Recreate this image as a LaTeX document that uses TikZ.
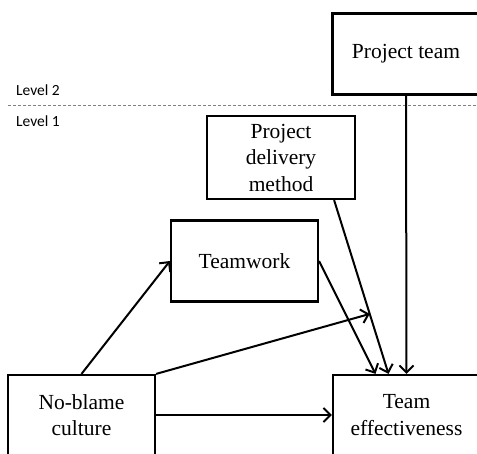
\documentclass[tikz,border=0pt]{standalone}
\usepackage{fontspec}
\setmainfont{Liberation Serif}
\newfontfamily\lvlfont{Carlito}
\usetikzlibrary{arrows.meta,calc}
\begin{document}
\begin{tikzpicture}[x=1pt,y=-1pt,
  box/.style={draw,line width=2.2pt,minimum width=147pt,minimum height=81pt,align=center,inner sep=0pt,
    font=\fontsize{21.5}{26.5}\selectfont},
  arr/.style={line width=2pt,-{Straight Barb[length=7pt,width=14pt,line width=2pt]}},
  lvl/.style={anchor=base west,inner sep=0pt,font=\lvlfont\fontsize{15.5}{18}\selectfont}]
\useasboundingbox (0,0) rectangle (477,453);
\clip (0,0) rectangle (477,453);
\draw[gray,line width=0.9pt,dash pattern=on 3pt off 2pt] (8,105) -- (477,105);
\node[lvl] (l2) at (16,95) {Level 2};
\node[lvl] (l1) at (16,126) {Level 1};
\node[box] (pt) at (406,54) {Project team};
\node[box,minimum width=148pt,minimum height=83pt] (pdm) at (281,157.5) {Project\\delivery\\method};
\node[box] (tw) at (244.5,261) {Teamwork};
\node[box,minimum height=80pt] (nb) at (81.5,415) {No-blame\\culture};
\node[box,minimum height=80pt] (te) at (406.5,415) {Team\\effectiveness};
\coordinate (pdmS) at ($(pdm.south east)+(-22,0)$);
\coordinate (teA) at ($(te.north)+(-31,0)$);
\coordinate (teB) at ($(te.north)+(-18,0)$);
\coordinate (mod) at ($(pdmS)!0.655!(teB)$);
\draw[arr] (nb.north) -- (tw.west);
\draw[arr] (tw.east) -- (teA);
\draw[arr] (pdmS) -- (teB);
\draw[arr] (pt.south) -- (te.north);
\draw[arr] (nb.north east) -- (mod);
\draw[arr] (nb.east) -- (te.west);
\end{tikzpicture}
\end{document}
